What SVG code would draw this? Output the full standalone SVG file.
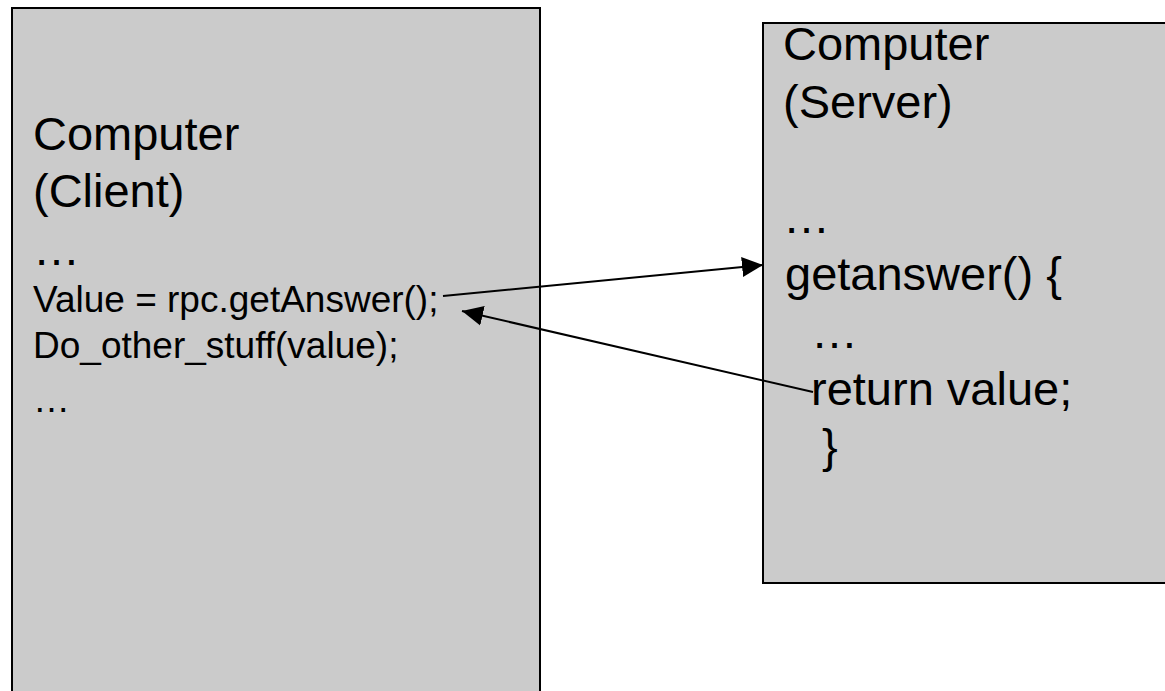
<svg xmlns="http://www.w3.org/2000/svg" width="1165" height="691" viewBox="0 0 1165 691">
  <style>
    .box { fill: #cbcbcb; stroke: #000; stroke-width: 2; }
    .big { font-family: "Liberation Sans", Arial, sans-serif; font-size: 47px; fill: #000; }
    .small { font-family: "Liberation Sans", Arial, sans-serif; font-size: 37px; fill: #000; }
    .link { stroke: #000; stroke-width: 2; fill: none; marker-end: url(#head); }
  </style>
  <defs>
    <marker id="head" markerUnits="userSpaceOnUse" markerWidth="22" markerHeight="22" refX="21" refY="11" orient="auto">
      <path d="M0,1 L21,11 L0,21 Z" fill="#000"/>
    </marker>
  </defs>
  <rect x="0" y="0" width="1165" height="691" fill="#fff"/>

  <!-- client machine -->
  <g id="client">
    <rect class="box" x="12" y="8" width="528" height="700"/>
    <text class="big" x="33" y="150">Computer</text>
    <text class="big" x="33" y="207">(Client)</text>
    <text class="big" x="33" y="265">…</text>
    <text class="small" x="33" y="312">Value = rpc.getAnswer();</text>
    <text class="small" x="33" y="358">Do_other_stuff(value);</text>
    <text class="small" x="33" y="412">…</text>
  </g>

  <!-- server machine -->
  <g id="server">
    <rect class="box" x="763" y="23" width="420" height="560"/>
    <text class="big" x="783" y="60">Computer</text>
    <text class="big" x="783" y="118">(Server)</text>
    <text class="big" x="783" y="233">…</text>
    <text class="big" x="785" y="290">getanswer() {</text>
    <text class="big" x="811" y="348">…</text>
    <text class="big" x="811" y="405">return value;</text>
    <text class="big" x="822" y="462">}</text>
  </g>

  <!-- call and return -->
  <g id="connectors">
    <line class="link" x1="443" y1="296" x2="763" y2="265"/>
    <line class="link" x1="813" y1="392" x2="462" y2="311"/>
  </g>
</svg>
